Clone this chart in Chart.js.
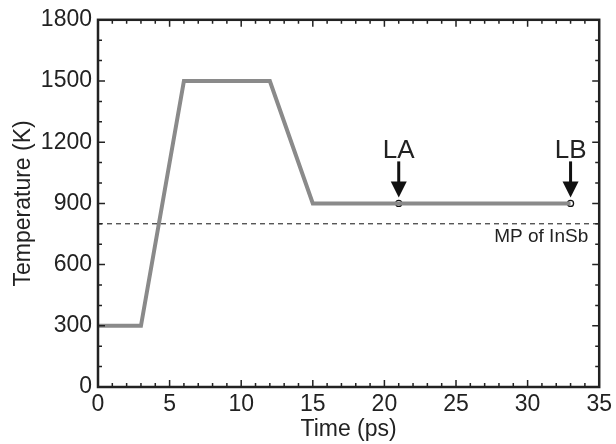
<!DOCTYPE html>
<html>
<head>
<meta charset="utf-8">
<script src="https://cdn.jsdelivr.net/npm/chart.js@4"></script>
<style>
  html, body { margin: 0; padding: 0; background: #fff; }
  #wrap { width: 616px; height: 444px; }
</style>
</head>
<body>
<div id="wrap"><canvas id="tempChart" width="616" height="444"></canvas></div>
<script>
// temperature profile
const timePs = [0, 3, 6, 12, 15, 33]
const tempK = [300, 300, 1500, 1500, 900, 900]
// sampled points
const sampleTime = [21, 33]
const sampleTemp = [900, 900]
const sampleLabels = ['LA', 'LB']
// melting point of InSb
const meltPoint = 800
const meltLabel = 'MP of InSb'

const xTicks = [0, 5, 10, 15, 20, 25, 30, 35]
const yTicks = [0, 300, 600, 900, 1200, 1500, 1800]

const font = 'Liberation Sans, Arial, sans-serif'

// inward ticks on all four sides, arrows and melting point text
const extras = {
    id: 'extras',
    afterDatasetsDraw(chart) {
        const ctx = chart.ctx
        const a = chart.chartArea
        const xs = chart.scales.x
        const ys = chart.scales.y
        ctx.save()

        // dashed melting point line
        const yMp = ys.getPixelForValue(meltPoint)
        ctx.strokeStyle = '#111'
        ctx.lineWidth = 1
        ctx.setLineDash([5, 4])
        ctx.beginPath()
        ctx.moveTo(a.left, yMp)
        ctx.lineTo(a.right, yMp)
        ctx.stroke()
        ctx.setLineDash([])

        ctx.fillStyle = '#222'
        ctx.font = '19px ' + font
        ctx.textAlign = 'right'
        ctx.textBaseline = 'alphabetic'
        ctx.fillText(meltLabel, a.right - 11, yMp + 18.5)

        // arrows with labels
        sampleTime.forEach((t, i) => {
            const px = xs.getPixelForValue(t)
            const py = ys.getPixelForValue(sampleTemp[i])
            ctx.strokeStyle = '#111'
            ctx.fillStyle = '#111'
            ctx.lineWidth = 3
            ctx.beginPath()
            ctx.moveTo(px, py - 42)
            ctx.lineTo(px, py - 20)
            ctx.stroke()
            ctx.beginPath()
            ctx.moveTo(px - 8, py - 22)
            ctx.lineTo(px + 8, py - 22)
            ctx.lineTo(px, py - 6)
            ctx.closePath()
            ctx.fill()
            ctx.font = '26px ' + font
            ctx.textAlign = 'center'
            ctx.fillStyle = '#222'
            ctx.fillText(sampleLabels[i], px, py - 45)
        })

        // ticks
        ctx.strokeStyle = '#222'
        ctx.lineWidth = 1.5
        ctx.beginPath()
        for (let v = xs.min; v <= xs.max; v += 1) {
            const px = xs.getPixelForValue(v)
            const len = v % 5 === 0 ? 7 : 4
            ctx.moveTo(px, a.bottom)
            ctx.lineTo(px, a.bottom - len)
            ctx.moveTo(px, a.top)
            ctx.lineTo(px, a.top + len)
        }
        for (let v = ys.min; v <= ys.max; v += 100) {
            const py = ys.getPixelForValue(v)
            const len = v % 300 === 0 ? 7 : 4
            ctx.moveTo(a.left, py)
            ctx.lineTo(a.left + len, py)
            ctx.moveTo(a.right, py)
            ctx.lineTo(a.right - len, py)
        }
        ctx.stroke()

        // frame
        ctx.lineWidth = 2.5
        ctx.strokeRect(a.left, a.top, a.right - a.left, a.bottom - a.top)
        ctx.restore()
    }
}

new Chart(document.getElementById('tempChart').getContext('2d'), {
    type: 'line',
    data: {
        datasets: [{
            data: timePs.map((t, i) => ({ x: t, y: tempK[i] })),
            borderColor: '#8a8a8a',
            borderWidth: 4,
            pointRadius: 0,
            tension: 0
        }, {
            data: sampleTime.map((t, i) => ({ x: t, y: sampleTemp[i] })),
            showLine: false,
            pointRadius: 3,
            pointBackgroundColor: '#fff',
            pointBorderColor: '#111',
            pointBorderWidth: 1.3
        }]
    },
    options: {
        responsive: false,
        animation: false,
        layout: { padding: { top: 16, right: 13, left: 0, bottom: 0 } },
        plugins: { legend: { display: false }, tooltip: { enabled: false } },
        scales: {
            x: {
                type: 'linear',
                min: 0,
                max: 35,
                afterBuildTicks: s => { s.ticks = xTicks.map(v => ({ value: v })) },
                afterFit: s => { s.height = 57 },
                grid: { display: false, drawTicks: false },
                border: { display: false },
                ticks: { color: '#222', padding: 4, font: { family: font, size: 23 }, maxRotation: 0 },
                title: { display: true, text: 'Time (ps)', color: '#222', padding: { top: 0, bottom: 1 }, font: { family: font, size: 23 } }
            },
            y: {
                min: 0,
                max: 1800,
                afterBuildTicks: s => { s.ticks = yTicks.map(v => ({ value: v })) },
                afterFit: s => { s.width = 98 },
                grid: { display: false, drawTicks: false },
                border: { display: false },
                ticks: { color: '#222', padding: 6, font: { family: font, size: 23 }, callback: v => String(v) },
                title: { display: true, text: 'Temperature (K)', color: '#222', padding: { top: 10, bottom: 0 }, font: { family: font, size: 23 } }
            }
        }
    },
    plugins: [extras]
});
</script>
</body>
</html>
